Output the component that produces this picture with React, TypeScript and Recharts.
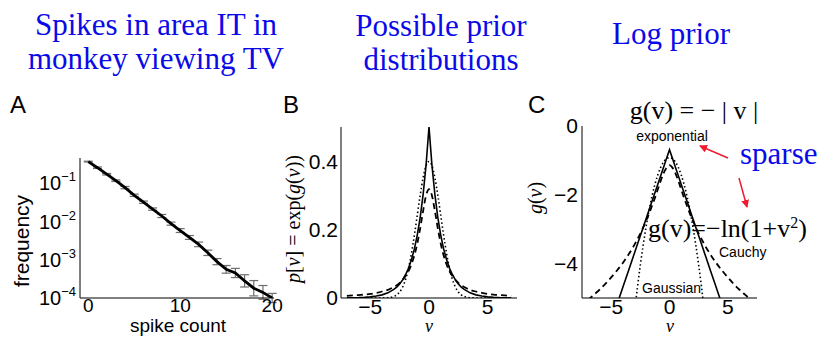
import React from "react";
import { ErrorBar, Line, LineChart, XAxis, YAxis } from "recharts";

// panel A: spike count histogram (log scale)
const spikeCount = [0, 1, 2, 3, 4, 5, 6, 7, 8, 9, 10, 11, 12, 13, 14, 15, 16, 17, 18, 19, 20];
const frequency = [
  0.363, 0.251, 0.17, 0.115, 0.0759, 0.0479, 0.0316, 0.0209, 0.0138, 0.00871, 0.00575,
  0.0038, 0.00251, 0.00151, 0.00089, 0.00056, 0.00045, 0.00028, 0.00018, 0.00014, 0.0001,
];
// half height of each error bar, in decades
const freqErrLog = [
  0.01, 0.02, 0.02, 0.02, 0.03, 0.03, 0.03, 0.03, 0.04, 0.04, 0.05,
  0.05, 0.06, 0.07, 0.08, 0.1, 0.12, 0.16, 0.2, 0.18, 0.12,
];
const freqTicks = [0.0001, 0.001, 0.01, 0.1];
const spikeTicks = [0, 10, 20];

// panels B and C: priors, v >= 0 half (curves are symmetric)
const vHalf = [0, 0.25, 0.5, 0.75, 1, 1.25, 1.5, 1.75, 2, 2.25, 2.5, 2.75, 3, 3.5, 4, 4.5, 5, 5.5, 6, 6.5, 7];
const pExp = [0.5, 0.389, 0.303, 0.236, 0.184, 0.143, 0.112, 0.087, 0.068, 0.053, 0.041, 0.032, 0.025, 0.015, 0.0092, 0.0056, 0.0034, 0.002, 0.0012, 0.0008, 0.0005];
const pGauss = [0.399, 0.387, 0.352, 0.301, 0.242, 0.183, 0.13, 0.086, 0.054, 0.032, 0.0175, 0.0091, 0.0044, 0.0009, 0.0001, 0, 0, 0, 0, 0, 0];
const pCauchy = [0.318, 0.3, 0.255, 0.204, 0.159, 0.124, 0.098, 0.078, 0.064, 0.053, 0.044, 0.037, 0.032, 0.024, 0.019, 0.015, 0.012, 0.01, 0.0086, 0.0074, 0.0064];
const gExp = [-0.69, -0.94, -1.19, -1.44, -1.69, -1.94, -2.19, -2.44, -2.69, -2.94, -3.19, -3.44, -3.69, -4.19, -4.69, -5.19, -5.69, -6.19, -6.69, -7.19, -7.69];
const gGauss = [-0.92, -0.95, -1.04, -1.2, -1.42, -1.7, -2.04, -2.45, -2.92, -3.45, -4.04, -4.7, -5.42, -7.04, -8.92, null, null, null, null, null, null];
const gCauchy = [-1.14, -1.21, -1.37, -1.59, -1.84, -2.09, -2.32, -2.55, -2.75, -2.95, -3.13, -3.29, -3.45, -3.73, -3.98, -4.2, -4.4, -4.59, -4.76, -4.91, -5.06];
const vTicks = [-5, 0, 5];
const pTicks = [0, 0.2, 0.4];
const gTicks = [-4, -2, 0];

const spikeData = spikeCount.map((x, i) => ({
  x,
  f: frequency[i],
  err: [frequency[i] * (1 - 10 ** -freqErrLog[i]), frequency[i] * (10 ** freqErrLog[i] - 1)],
}));

const half = vHalf.map((v, i) => ({
  v,
  pExp: pExp[i],
  pGauss: pGauss[i],
  pCauchy: pCauchy[i],
  gExp: gExp[i],
  gGauss: gGauss[i],
  gCauchy: gCauchy[i],
}));
const priorData = [
  ...half.slice(1).reverse().map((d) => ({ ...d, v: -d.v })),
  ...half,
];

const sans = '"Liberation Sans", Arial, Helvetica, sans-serif';
const serif = '"Liberation Serif", "Times New Roman", serif';
const blue = "#0a0ae8";
const red = "#ee1c2e";

const minus = (v: number) => (v < 0 ? "\u2212" + Math.abs(v) : String(v));

function PowerTick({ x, y, payload }: any) {
  const e = Math.round(Math.log10(payload.value));
  return (
    <text x={x} y={y} textAnchor="end" fontFamily={sans} fontSize={20} fill="#000">
      <tspan dy="0.36em">10</tspan>
      <tspan dy={-9} fontSize={13}>{"\u2212" + Math.abs(e)}</tspan>
    </text>
  );
}

const axisLine = { stroke: "#000", strokeWidth: 1 };
const tickStyle = { fill: "#000", fontSize: 21, fontFamily: sans };

function Txt({ x, y, size, children, font = sans, color = "#000", center = false, style = {} }: any) {
  return (
    <div
      style={{
        position: "absolute",
        left: x,
        top: y,
        fontFamily: font,
        fontSize: size,
        lineHeight: 1,
        color,
        whiteSpace: "nowrap",
        transform: center ? "translateX(-50%)" : undefined,
        ...style,
      }}
    >
      {children}
    </div>
  );
}

function VLabel({ cx, cy, size, font = sans, children }: any) {
  return (
    <div
      style={{
        position: "absolute",
        left: cx,
        top: cy,
        fontFamily: font,
        fontSize: size,
        lineHeight: 1,
        whiteSpace: "nowrap",
        transform: "translate(-50%, -50%) rotate(-90deg)",
      }}
    >
      {children}
    </div>
  );
}

export default function App() {
  return (
    <div style={{ position: "absolute", left: 0, top: 0, width: 836, height: 337, background: "#fff", overflow: "hidden" }}>
      {/* titles */}
      <div style={{ position: "absolute", left: 156, top: 8, transform: "translateX(-50%)", fontFamily: serif, fontSize: 31, lineHeight: "34px", color: blue, textAlign: "center", whiteSpace: "nowrap" }}>
        Spikes in area IT in
        <br />
        monkey viewing TV
      </div>
      <div style={{ position: "absolute", left: 441, top: 9, transform: "translateX(-50%)", fontFamily: serif, fontSize: 31, lineHeight: "34px", color: blue, textAlign: "center", whiteSpace: "nowrap" }}>
        Possible prior
        <br />
        distributions
      </div>
      <div style={{ position: "absolute", left: 671, top: 17, transform: "translateX(-50%)", fontFamily: serif, fontSize: 31, lineHeight: "34px", color: blue, whiteSpace: "nowrap" }}>
        Log prior
      </div>

      {/* panel A */}
      <Txt x={10} y={93} size={24}>A</Txt>
      <div style={{ position: "absolute", left: 0, top: 140 }}>
        <LineChart width={290} height={197} data={spikeData} margin={{ top: 18, right: 16, bottom: 0, left: 0 }}>
          <XAxis
            dataKey="x"
            type="number"
            domain={[-0.9, 20.2]}
            ticks={spikeTicks}
            allowDataOverflow
            height={39}
            tickLine={false}
            tickSize={1}
            tickMargin={0}
            axisLine={axisLine}
            tick={{ ...tickStyle, fontSize: 19 }}
          />
          <YAxis
            type="number"
            scale="log"
            domain={[0.0001, 0.45]}
            ticks={freqTicks}
            allowDataOverflow
            width={80}
            tickLine={false}
            tickSize={2}
            tickMargin={2}
            axisLine={axisLine}
            tick={<PowerTick />}
          />
          <Line dataKey="f" type="linear" stroke="#000" strokeWidth={2.8} dot={false} isAnimationActive={false}>
            <ErrorBar dataKey="err" direction="y" width={4.5} stroke="#6e6e6e" strokeWidth={1.2} isAnimationActive={false} />
          </Line>
        </LineChart>
      </div>
      <VLabel cx={21} cy={241} size={21}>frequency</VLabel>
      <Txt x={178} y={317} size={19} center style={{ lineHeight: "18px" }}>spike count</Txt>

      {/* panel B */}
      <Txt x={283} y={93} size={24}>B</Txt>
      <div style={{ position: "absolute", left: 270, top: 110 }}>
        <LineChart width={260} height={227} data={priorData} margin={{ top: 17, right: 13, bottom: 0, left: 0 }}>
          <XAxis
            dataKey="v"
            type="number"
            domain={[-7.5, 7.5]}
            ticks={vTicks}
            tickFormatter={minus}
            allowDataOverflow
            height={39}
            tickLine={false}
            tickSize={1}
            tickMargin={0}
            axisLine={axisLine}
            tick={tickStyle}
          />
          <YAxis
            type="number"
            domain={[0, 0.5]}
            ticks={pTicks}
            allowDataOverflow
            width={71}
            tickLine={false}
            tickSize={2}
            tickMargin={1}
            axisLine={axisLine}
            tick={tickStyle}
          />
          <Line dataKey="pCauchy" type="monotone" stroke="#000" strokeWidth={1.8} strokeDasharray="6 4" dot={false} isAnimationActive={false} />
          <Line dataKey="pGauss" type="monotone" stroke="#000" strokeWidth={1.6} strokeDasharray="1.5 2.5" dot={false} isAnimationActive={false} />
          <Line dataKey="pExp" type="linear" stroke="#000" strokeWidth={1.6} dot={false} isAnimationActive={false} />
        </LineChart>
      </div>
      <VLabel cx={293} cy={219} size={20} font={serif}>
        <i>p</i>[<i>v</i>] = exp(<i>g</i>(<i>v</i>))
      </VLabel>
      <Txt x={429} y={317} size={18} font={serif} center>
        <i>v</i>
      </Txt>

      {/* panel C */}
      <Txt x={528} y={93} size={24}>C</Txt>
      <div style={{ position: "absolute", left: 510, top: 110 }}>
        <LineChart width={260} height={227} data={priorData} margin={{ top: 16, right: 13, bottom: 0, left: 0 }}>
          <XAxis
            dataKey="v"
            type="number"
            domain={[-7.5, 7.5]}
            ticks={vTicks}
            tickFormatter={minus}
            allowDataOverflow
            height={39}
            tickLine={false}
            tickSize={1}
            tickMargin={0}
            axisLine={axisLine}
            tick={tickStyle}
          />
          <YAxis
            type="number"
            domain={[-5, 0]}
            ticks={gTicks}
            tickFormatter={minus}
            allowDataOverflow
            width={72}
            tickLine={false}
            tickSize={2}
            tickMargin={2}
            axisLine={axisLine}
            tick={tickStyle}
          />
          <Line dataKey="gCauchy" type="monotone" stroke="#000" strokeWidth={1.8} strokeDasharray="6 4" dot={false} isAnimationActive={false} />
          <Line dataKey="gGauss" type="monotone" stroke="#000" strokeWidth={1.6} strokeDasharray="1.5 2.5" dot={false} isAnimationActive={false} />
          <Line dataKey="gExp" type="linear" stroke="#000" strokeWidth={1.6} dot={false} isAnimationActive={false} />
        </LineChart>
      </div>
      <VLabel cx={535} cy={198} size={20} font={serif}>
        <i>g</i>(<i>v</i>)
      </VLabel>
      <Txt x={670} y={317} size={18} font={serif} center>
        <i>v</i>
      </Txt>

      {/* annotations */}
      <Txt x={694} y={98} size={26} font={serif} center>
        g(v) = − | v |
      </Txt>
      <Txt x={672} y={129} size={14} center>exponential</Txt>
      <Txt x={740} y={138} size={31} font={serif} color={blue}>sparse</Txt>
      <Txt x={648} y={216} size={26} font={serif}>
        g(v)=−ln(1+v<sup style={{ fontSize: 16, verticalAlign: "0.55em", lineHeight: 0 }}>2</sup>)
      </Txt>
      <Txt x={719} y={245} size={14}>Cauchy</Txt>
      <Txt x={642} y={281} size={14}>Gaussian</Txt>
      <svg width={836} height={337} style={{ position: "absolute", left: 0, top: 0, pointerEvents: "none" }}>
        <defs>
          <marker id="head" markerWidth="8" markerHeight="8" refX="7" refY="4" orient="auto" markerUnits="userSpaceOnUse">
            <path d="M0,0 L8,4 L0,8 Z" fill={red} />
          </marker>
        </defs>
        <line x1={728} y1={158} x2={700} y2={146} stroke={red} strokeWidth={1.5} markerEnd="url(#head)" />
        <line x1={739} y1={178} x2={747} y2={207} stroke={red} strokeWidth={1.5} markerEnd="url(#head)" />
      </svg>
    </div>
  );
}
